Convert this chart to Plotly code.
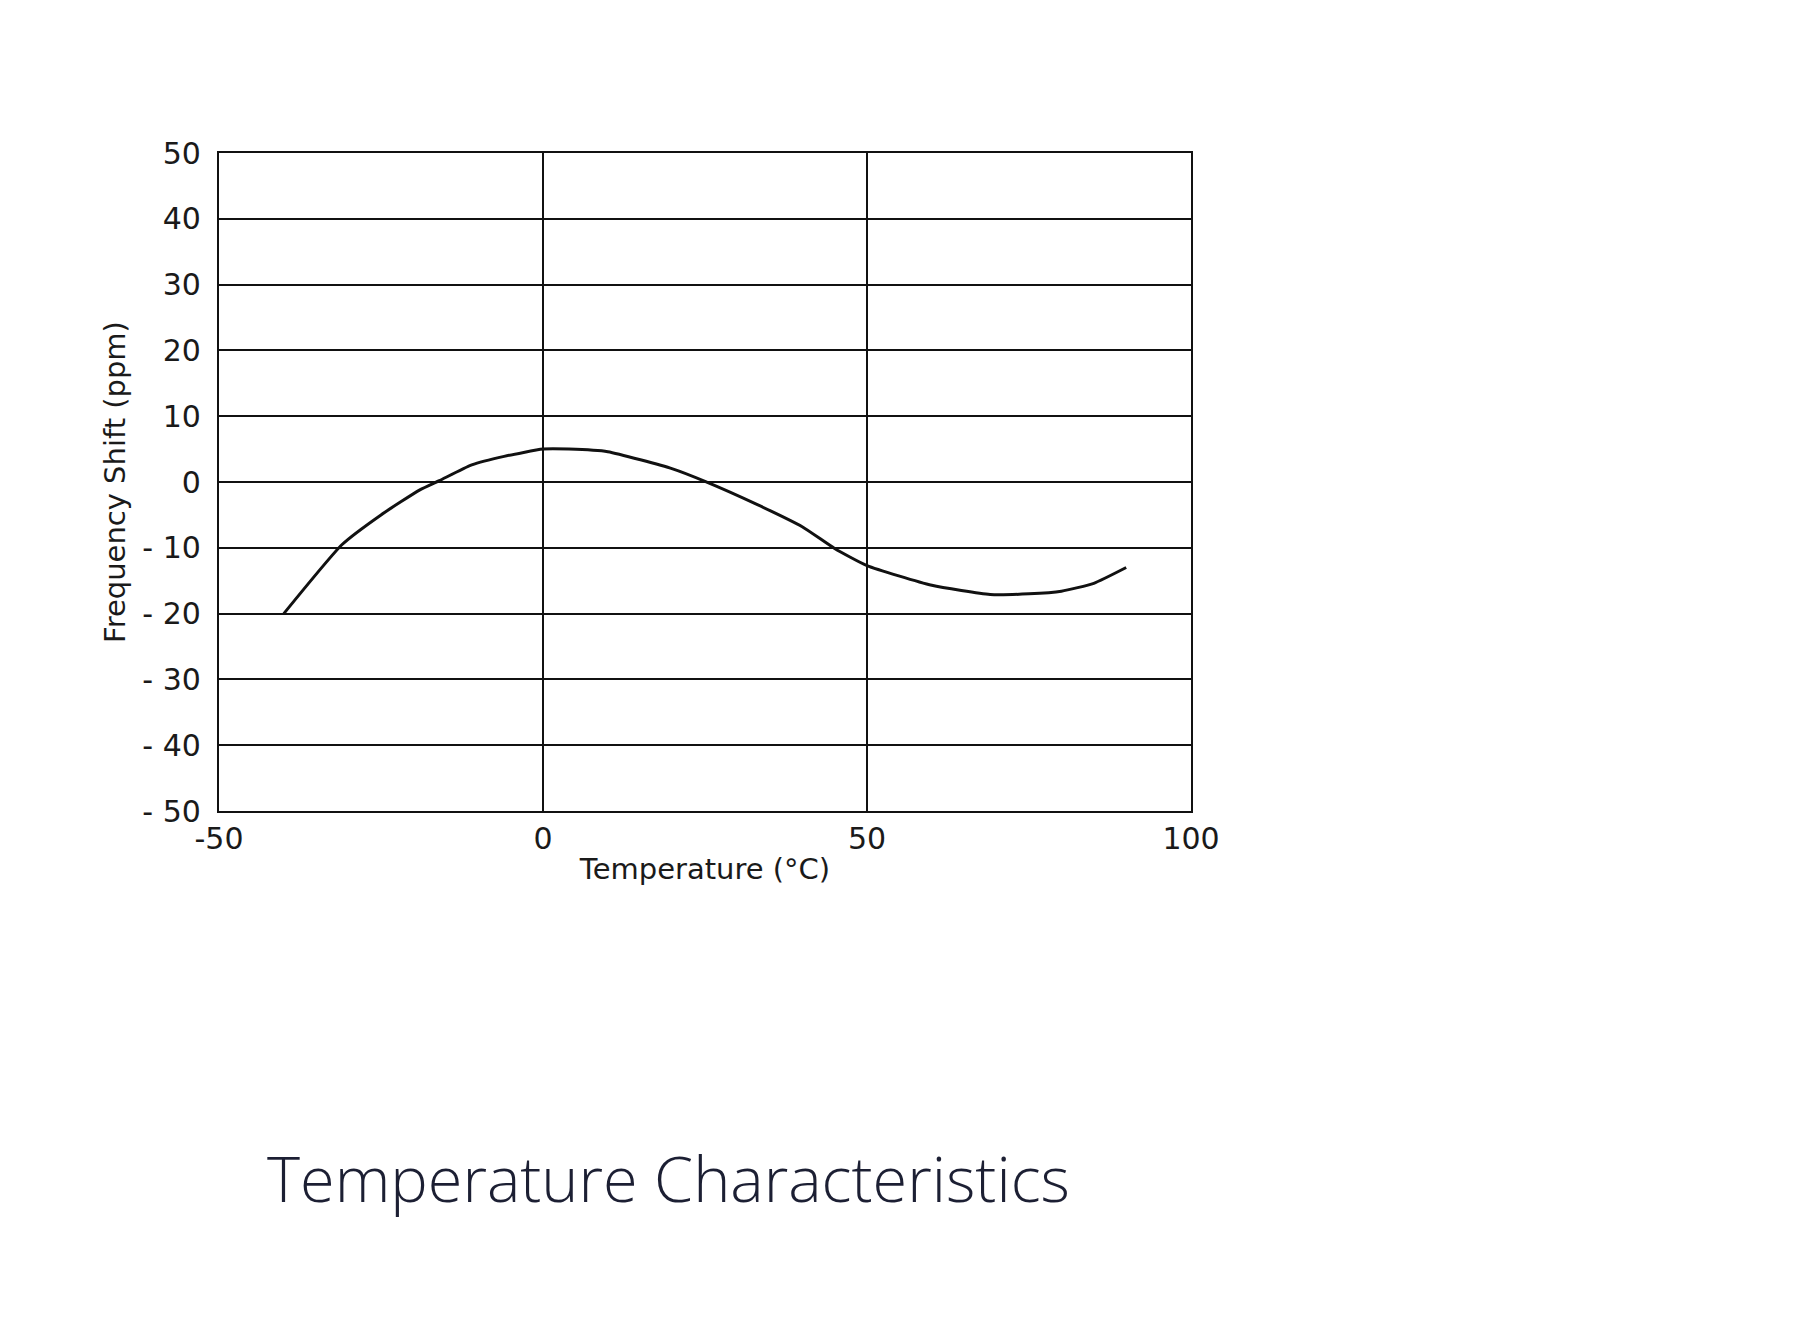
import plotly.graph_objects as go

# Data
temperature_c = [-40, -31, -25, -19, -16, -11, -6, 0, 4, 10, 20, 25, 33, 40, 45, 50, 60, 69, 75, 80, 85, 90]
freq_shift_ppm = [-20, -9.5, -5, -1.2, 0.2, 2.6, 3.9, 5.0, 5.0, 4.6, 2.0, 0.1, -3.4, -6.8, -10.1, -12.7, -15.7, -17.1, -17.0, -16.6, -15.4, -13.0]

x_tick_vals = [-50, 0, 50, 100]
x_tick_text = ["-50", "0", "50", "100"]
y_tick_vals = [50, 40, 30, 20, 10, 0, -10, -20, -30, -40, -50]
y_tick_text = ["50", "40", "30", "20", "10", "0", "- 10", "- 20", "- 30", "- 40", "- 50"]

title_text = "Temperature Characteristics"
x_title = "Temperature (°C)"
y_title = "Frequency Shift (ppm)"

fig = go.Figure()
fig.add_trace(go.Scatter(
    x=temperature_c, y=freq_shift_ppm, mode="lines",
    line=dict(color="#111111", width=3, shape="spline", smoothing=0.5),
    showlegend=False, hoverinfo="x+y",
))

axis_font = dict(family="DejaVu Sans", size=30, color="#1a1a1a")
title_font = dict(family="DejaVu Sans", size=29, color="#1a1a1a")

fig.update_layout(
    width=1804, height=1328,
    margin=dict(l=211, r=621, t=145, b=525),
    paper_bgcolor="white", plot_bgcolor="white",
    title=dict(
        text=title_text, x=259 / 1804, xanchor="left",
        y=1 - 1172 / 1328, yanchor="middle", yref="container",
        font=dict(family="Open Sans", size=63, color="#1c1f33", weight=300),
    ),
)
fig.update_xaxes(
    range=[-50, 100], tickvals=x_tick_vals, ticktext=x_tick_text,
    showgrid=True, gridcolor="#111111", gridwidth=2.2,
    showline=True, linecolor="#111111", linewidth=2.2, mirror=True,
    zeroline=False, ticks="", tickfont=axis_font, ticklabelstandoff=0,
    title=dict(text=x_title, font=title_font, standoff=4),
)
fig.update_yaxes(
    range=[-50, 50], tickvals=y_tick_vals, ticktext=y_tick_text,
    showgrid=True, gridcolor="#111111", gridwidth=2.2,
    showline=True, linecolor="#111111", linewidth=2.2, mirror=True,
    zeroline=False, ticks="", tickfont=axis_font, ticklabelstandoff=10,
    title=dict(text=y_title, font=title_font, standoff=8),
)

fig.write_html("out.html")
